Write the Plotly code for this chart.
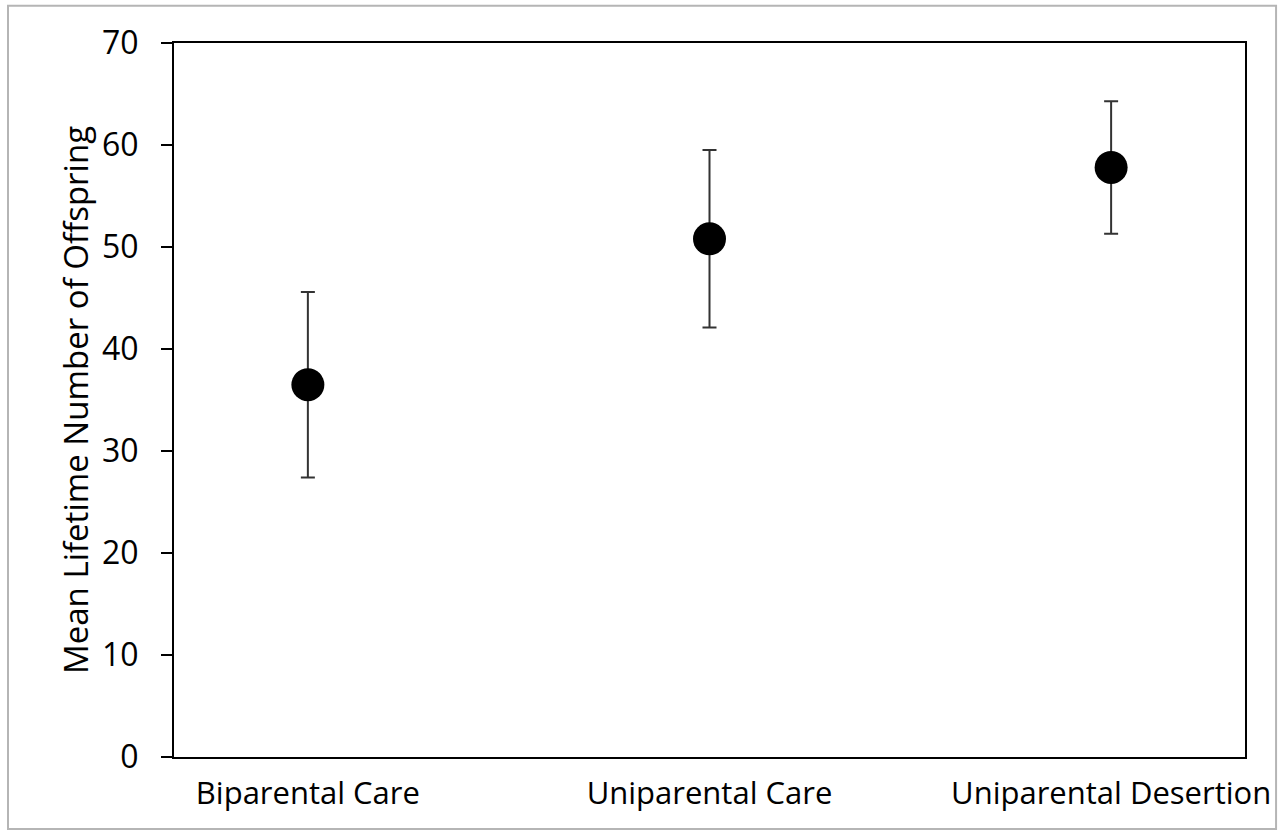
import plotly.graph_objects as go

categories = ["Biparental Care", "Uniparental Care", "Uniparental Desertion"]
means = [36.5, 50.8, 57.8]
errors = [9.1, 8.7, 6.5]
y_ticks = [0, 10, 20, 30, 40, 50, 60, 70]
y_title = "Mean Lifetime Number of Offspring"

fig = go.Figure()
fig.add_trace(go.Scatter(
    x=categories, y=means, mode="markers",
    marker=dict(color="black", size=33, line=dict(width=0)),
    error_y=dict(type="data", array=errors, visible=True,
                 color="#333333", thickness=2, width=7),
    showlegend=False,
))

fig.update_layout(
    width=1282, height=833,
    margin=dict(l=174, r=37, t=43, b=76),
    paper_bgcolor="white", plot_bgcolor="white",
    font=dict(family="Open Sans", color="black"),
    xaxis=dict(
        type="category", range=[-1/3, 7/3],
        showline=True, linecolor="black", linewidth=2, mirror=True,
        showgrid=False, zeroline=False, ticks="",
        tickfont=dict(family="Open Sans", size=31),
        ticklabelstandoff=8,
    ),
    yaxis=dict(
        range=[0, 70], tickvals=y_ticks,
        showline=True, linecolor="black", linewidth=2, mirror=True,
        showgrid=False, zeroline=False,
        ticks="outside", ticklen=11, tickwidth=2, tickcolor="black",
        tickfont=dict(size=32),
        ticklabelstandoff=16,
    ),
    annotations=[dict(text=y_title, textangle=-90, showarrow=False,
                      xref="paper", yref="paper", x=-0.0925, y=0.5,
                      xanchor="center", yanchor="middle",
                      font=dict(size=33, family="Open Sans", color="black"))],
    shapes=[dict(type="rect", xref="paper", yref="paper",
                 x0=-0.155, x1=1.029, y0=-0.101, y1=1.052,
                 line=dict(color="#b5b5b5", width=2), fillcolor="rgba(0,0,0,0)")],
)

fig.write_html("out.html", config={"displayModeBar": False})
with open("out.html", "r", encoding="utf-8") as f:
    html = f.read()
html = html.replace("<body>", '<body style="margin:0;padding:0;">', 1)
with open("out.html", "w", encoding="utf-8") as f:
    f.write(html)
